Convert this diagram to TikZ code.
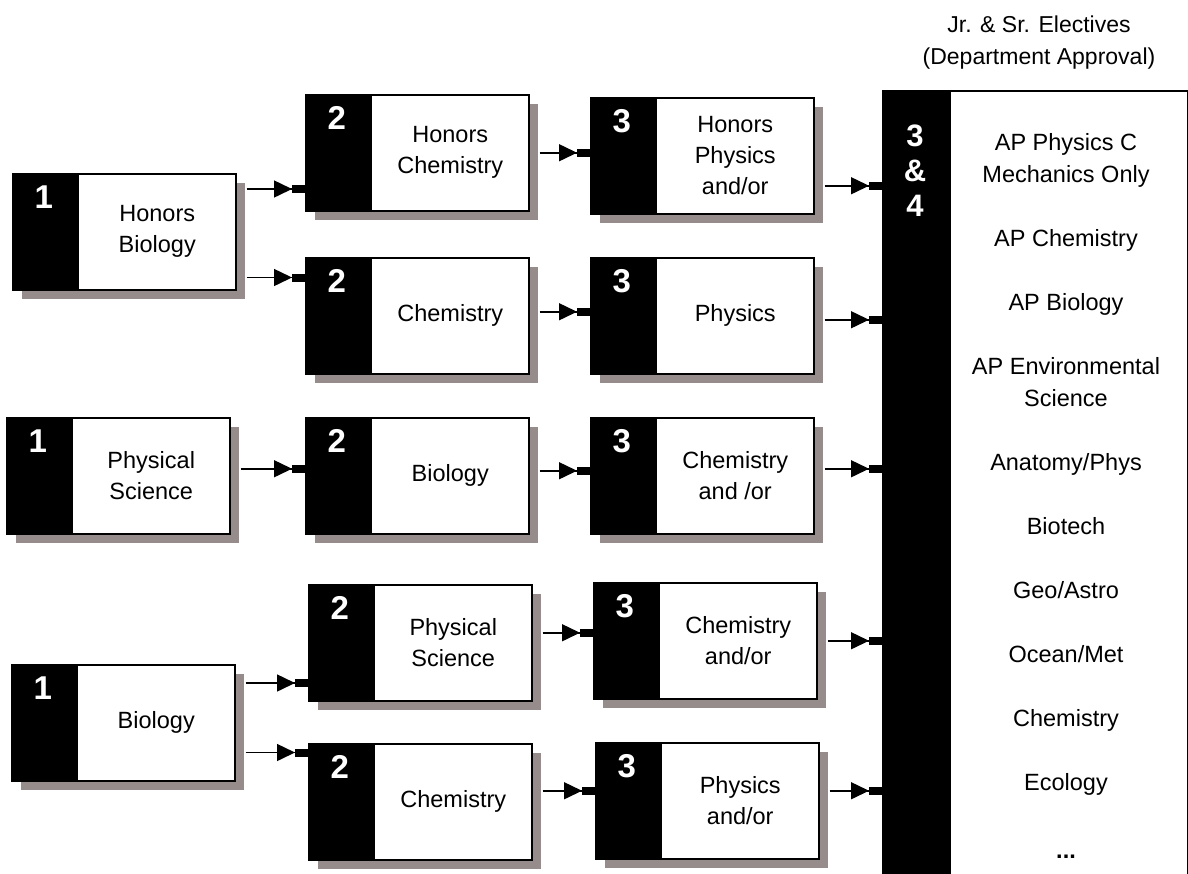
\documentclass[tikz,border=0pt]{standalone}
\usepackage{fontspec}
\setmainfont{Liberation Sans}
\usetikzlibrary{arrows.meta,shadows,calc}
\definecolor{shadowc}{RGB}{150,140,140}
\newcommand\ctext[1]{\hspace*{66pt}\parbox{157pt}{\centering #1}}
\begin{document}
\begin{tikzpicture}[x=1pt,y=-1pt,
  num/.style={text=white, font=\fontsize{33}{35}\selectfont\bfseries, inner sep=0pt, align=center,
    anchor=center, minimum width=0pt, minimum height=0pt, draw=none, fill=none},
  course/.style={draw=black, line width=1.5pt, fill=white, anchor=north west, inner sep=0pt,
    minimum width=223pt, minimum height=116pt,
    general shadow={fill=shadowc, shadow xshift=9pt, shadow yshift=-9pt},
    font=\fontsize{23.5}{31}\selectfont,
    path picture={\fill[black] (path picture bounding box.north west) rectangle ([xshift=66pt]path picture bounding box.south west);
      \node[num] at ([xshift=31pt,yshift=-23pt]path picture bounding box.north west) {#1};}},
  arr/.style={line width=1.5pt, -{Triangle[length=18pt,width=17pt] Rectangle[length=13pt,width=8pt]}},
]
\path[use as bounding box] (0,0) rectangle (1188,873);

% header
\node[font=\fontsize{23}{32}\selectfont, align=center] (hdr) at (1039,43) {Jr. \& Sr. Electives\\(Department Approval)};

% electives box
\node[draw=black, line width=1.5pt, fill=white, anchor=north west, inner sep=0pt,
  minimum width=305pt, minimum height=820pt,
  path picture={\fill[black] (path picture bounding box.north west) rectangle ([xshift=68pt]path picture bounding box.south west);}]
  (el) at (882,90) {};
\node[num, font=\fontsize{31}{35}\selectfont\bfseries] (eln) at (915,171) {3\\\&\\4};
\node[font=\fontsize{23.5}{32}\selectfont, align=center, anchor=north, inner sep=0pt] (elist) at (1066,133)
 {AP Physics C\\Mechanics Only\\[32pt]AP Chemistry\\[32pt]AP Biology\\[32pt]AP Environmental\\Science\\[32pt]Anatomy/Phys\\[32pt]Biotech\\[32pt]Geo/Astro\\[32pt]Ocean/Met\\[32pt]Chemistry\\[32pt]Ecology\\[36pt]\textbf{...}};

% course boxes
\node[course=1] (hb1) at (12,173) {\ctext{Honors\\Biology}};
\node[course=2] (hc2) at (305,94) {\ctext{Honors\\Chemistry}};
\node[course=3] (hp3) at (590,97) {\ctext{Honors\\Physics\\and/or}};
\node[course=2] (c2a) at (305,257) {\ctext{Chemistry}};
\node[course=3] (p3a) at (590,257) {\ctext{Physics}};
\node[course=1] (ps1) at (6,417) {\ctext{Physical\\Science}};
\node[course=2] (b2) at (305,417) {\ctext{Biology}};
\node[course=3] (ch3) at (590,417) {\ctext{Chemistry\\and /or}};
\node[course=2] (ps2) at (308,584) {\ctext{Physical\\Science}};
\node[course=3] (ch3b) at (593,582) {\ctext{Chemistry\\and/or}};
\node[course=1] (bio1) at (11,664) {\ctext{Biology}};
\node[course=2] (c2b) at (308,743) {\ctext{Chemistry}};
\node[course=3] (p3b) at (595,742) {\ctext{Physics\\and/or}};

% connectors
\draw[arr] ([xshift=10pt,yshift=-16pt]hb1.north east) coordinate (a1) -- (a1 -| hc2.west);
\draw[arr] ([xshift=10pt,yshift=13pt]hb1.south east) coordinate (a2) -- (a2 -| c2a.west);
\draw[arr] ([xshift=10pt]hc2.east) coordinate (a3) -- (a3 -| hp3.west);
\draw[arr] ([xshift=10pt,yshift=-30pt]hp3.east) coordinate (a4) -- (a4 -| el.west);
\draw[arr] ([xshift=10pt,yshift=4pt]c2a.east) coordinate (a5) -- (a5 -| p3a.west);
\draw[arr] ([xshift=10pt,yshift=-4pt]p3a.east) coordinate (a6) -- (a6 -| el.west);
\draw[arr] ([xshift=10pt,yshift=7pt]ps1.east) coordinate (a7) -- (a7 -| b2.west);
\draw[arr] ([xshift=10pt,yshift=5pt]b2.east) coordinate (a8) -- (a8 -| ch3.west);
\draw[arr] ([xshift=10pt,yshift=7pt]ch3.east) coordinate (a9) -- (a9 -| el.west);
\draw[arr] ([xshift=10pt,yshift=-19pt]bio1.north east) coordinate (a10) -- (a10 -| ps2.west);
\draw[arr] ([xshift=10pt,yshift=29pt]bio1.south east) coordinate (a11) -- (a11 -| c2b.west);
\draw[arr] ([xshift=10pt,yshift=10pt]ps2.east) coordinate (a12) -- (a12 -| ch3b.west);
\draw[arr] ([xshift=10pt]ch3b.east) coordinate (a13) -- (a13 -| el.west);
\draw[arr] ([xshift=10pt,yshift=11pt]c2b.east) coordinate (a14) -- (a14 -| p3b.west);
\draw[arr] ([xshift=10pt,yshift=10pt]p3b.east) coordinate (a15) -- (a15 -| el.west);
\end{tikzpicture}
\end{document}
